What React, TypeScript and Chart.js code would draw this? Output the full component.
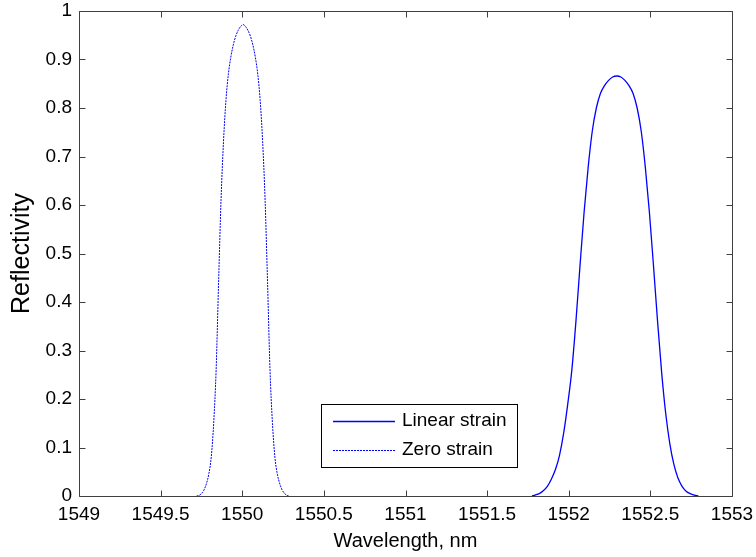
import React, { useEffect, useRef } from "react";
import { Chart, registerables } from "chart.js";

Chart.register(...registerables);

// Zero strain peak (wavelength nm, reflectivity)
const zeroWl = [
  1549.720, 1549.735, 1549.750, 1549.765, 1549.780, 1549.795, 1549.810, 1549.825, 1549.840, 1549.855,
  1549.870, 1549.885, 1549.900, 1549.915, 1549.930, 1549.945, 1549.960, 1549.975, 1549.990, 1550.005,
  1550.020, 1550.035, 1550.050, 1550.065, 1550.080, 1550.095, 1550.110, 1550.125, 1550.140, 1550.155,
  1550.170, 1550.185, 1550.200, 1550.215, 1550.230, 1550.245, 1550.260, 1550.275, 1550.290,
];
const zeroR = [
  0, 0.001, 0.005, 0.012, 0.025, 0.045, 0.08, 0.15, 0.26, 0.44,
  0.61, 0.73, 0.815, 0.87, 0.905, 0.93, 0.948, 0.96, 0.968, 0.972,
  0.968, 0.96, 0.948, 0.93, 0.905, 0.87, 0.815, 0.73, 0.61, 0.44,
  0.26, 0.15, 0.08, 0.045, 0.025, 0.012, 0.005, 0.001, 0,
];

// Linear strain peak
const linWl = [
  1551.774, 1551.794, 1551.819, 1551.844, 1551.869, 1551.894, 1551.919, 1551.944, 1551.969, 1551.994,
  1552.019, 1552.044, 1552.069, 1552.094, 1552.119, 1552.144, 1552.169, 1552.194, 1552.219, 1552.244,
  1552.269, 1552.294, 1552.319, 1552.344, 1552.369, 1552.394, 1552.419, 1552.444, 1552.469, 1552.494,
  1552.519, 1552.544, 1552.569, 1552.594, 1552.619, 1552.644, 1552.669, 1552.694, 1552.719, 1552.744,
  1552.769, 1552.794,
];
const linR = [
  0, 0.002, 0.005, 0.011, 0.02, 0.035, 0.055, 0.085, 0.13, 0.19,
  0.26, 0.36, 0.475, 0.585, 0.678, 0.752, 0.8, 0.83, 0.846, 0.857,
  0.864, 0.866, 0.864, 0.857, 0.846, 0.83, 0.8, 0.752, 0.678, 0.585,
  0.475, 0.36, 0.255, 0.17, 0.108, 0.065, 0.037, 0.02, 0.01, 0.005,
  0.002, 0,
];

const seriesLabels = ["Linear strain", "Zero strain"];
const xTitle = "Wavelength, nm";
const yTitle = "Reflectivity";
const xMin = 1549, xMax = 1553, xStep = 0.5;
const yMin = 0, yMax = 1, yStep = 0.1;

const FONT = "'Liberation Sans', Arial, Helvetica, sans-serif";
const BLUE = "#0000ff";
const AXIS = "#404040";

const framePlugin = {
  id: "matlabFrame",
  afterDatasetsDraw(chart: any) {
    const { ctx, chartArea: a, scales } = chart;
    const L = Math.round(a.left) + 0.5, R = Math.round(a.right) + 0.5;
    const T = Math.round(a.top) + 0.5, B = Math.round(a.bottom) + 0.5;
    const tl = 6;
    ctx.save();
    ctx.strokeStyle = AXIS;
    ctx.lineWidth = 1;
    ctx.beginPath();
    ctx.rect(L, T, R - L, B - T);
    for (const t of scales.x.ticks) {
      const px = Math.round(scales.x.getPixelForValue(t.value)) + 0.5;
      ctx.moveTo(px, B); ctx.lineTo(px, B - tl);
      ctx.moveTo(px, T); ctx.lineTo(px, T + tl);
    }
    for (const t of scales.y.ticks) {
      const py = Math.round(scales.y.getPixelForValue(t.value)) + 0.5;
      ctx.moveTo(L, py); ctx.lineTo(L + tl, py);
      ctx.moveTo(R, py); ctx.lineTo(R - tl, py);
    }
    ctx.stroke();

    // legend box
    const bx = 321.5, by = 404.5, bw = 196, bh = 63;
    ctx.fillStyle = "#ffffff";
    ctx.fillRect(bx, by, bw, bh);
    ctx.strokeStyle = "#000000";
    ctx.strokeRect(bx, by, bw, bh);
    const rows = [421, 450];
    chart.data.datasets.forEach((ds: any, i: number) => {
      const y = rows[i] + 0.5;
      ctx.beginPath();
      ctx.strokeStyle = ds.borderColor;
      ctx.lineWidth = ds.borderWidth;
      ctx.setLineDash(ds.borderDash || []);
      ctx.moveTo(333, y);
      ctx.lineTo(395, y);
      ctx.stroke();
      ctx.setLineDash([]);
      ctx.fillStyle = "#000000";
      ctx.font = `19px ${FONT}`;
      ctx.textBaseline = "middle";
      ctx.textAlign = "left";
      ctx.fillText(ds.label, 402, rows[i]);
    });
    ctx.restore();
  },
};

export default function App() {
  const ref = useRef<HTMLCanvasElement>(null);
  useEffect(() => {
    if (!ref.current) return;
    const toPts = (xs: number[], ys: number[]) => xs.map((x, i) => ({ x, y: ys[i] }));
    const chart = new Chart(ref.current, {
      type: "line",
      data: {
        datasets: [
          {
            label: seriesLabels[0],
            data: toPts(linWl, linR),
            borderColor: BLUE,
            borderWidth: 1.3,
            pointRadius: 0,
            cubicInterpolationMode: "monotone",
            fill: false,
          },
          {
            label: seriesLabels[1],
            data: toPts(zeroWl, zeroR),
            borderColor: BLUE,
            borderWidth: 1,
            borderDash: [2, 1],
            pointRadius: 0,
            cubicInterpolationMode: "monotone",
            fill: false,
          },
        ],
      },
      options: {
        animation: false,
        responsive: false,
        devicePixelRatio: 1,
        layout: { padding: { top: 11, right: 24, left: 0, bottom: 0 } },
        plugins: { legend: { display: false }, tooltip: { enabled: false } },
        scales: {
          x: {
            type: "linear",
            min: xMin,
            max: xMax,
            grid: { display: false, drawTicks: false },
            border: { display: false },
            afterFit: (s: any) => { s.height = 61; s.paddingLeft = 0; s.paddingRight = 0; },
            ticks: {
              stepSize: xStep,
              color: "#000",
              padding: 7,
              maxRotation: 0,
              autoSkip: false,
              font: { family: FONT, size: 19 },
              callback: (v: any) => String(Number(Number(v).toFixed(1))),
            },
            title: {
              display: true,
              text: xTitle,
              color: "#000",
              font: { family: FONT, size: 20 },
              padding: { top: 0, bottom: 4 },
            },
          },
          y: {
            min: yMin,
            max: yMax,
            grid: { display: false, drawTicks: false },
            border: { display: false },
            afterFit: (s: any) => { s.width = 79; s.paddingTop = 0; s.paddingBottom = 0; },
            ticks: {
              stepSize: yStep,
              color: "#000",
              padding: 7,
              autoSkip: false,
              font: { family: FONT, size: 19 },
              callback: (v: any) => String(Number(Number(v).toFixed(1))),
            },
            title: {
              display: true,
              text: yTitle,
              color: "#000",
              font: { family: FONT, size: 25 },
              padding: { top: 7, bottom: 0 },
            },
          },
        },
      },
      plugins: [framePlugin],
    } as any);
    return () => chart.destroy();
  }, []);
  return (
    <div style={{ position: "absolute", left: 0, top: 0, width: 756, height: 557, background: "#fff" }}>
      <canvas ref={ref} width={756} height={557} style={{ width: 756, height: 557, display: "block" }} />
    </div>
  );
}
